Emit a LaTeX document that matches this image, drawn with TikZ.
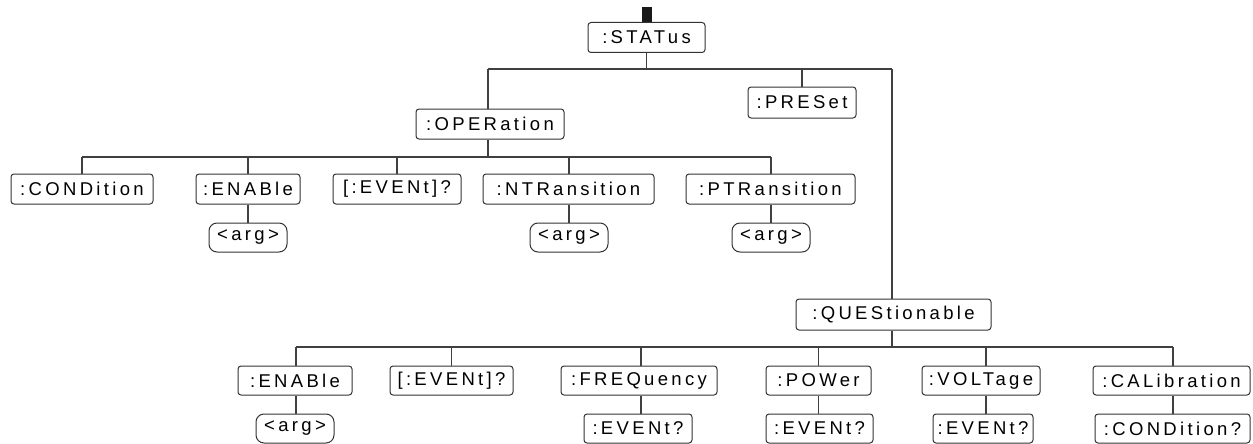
\documentclass[tikz,border=0pt]{standalone}
\usepackage{fontspec}
\newfontfamily\lblfont{Liberation Sans}[LetterSpace=18]
\begin{document}
\begin{tikzpicture}[x=1pt,y=-1pt,
  box/.style={draw=black!80, line width=1pt, rounded corners=3pt, minimum height=30pt, inner sep=0pt,
    font=\lblfont\fontsize{18.5}{21}\selectfont, text=black},
  argbox/.style={box, rounded corners=8pt},
  conn/.style={draw=black!75, line width=1.1pt}]
\useasboundingbox (0,0) rectangle (1253,444);
% top
\node[fill=black!90, minimum width=10pt, minimum height=15pt, inner sep=0pt] (bar) at (647,14.5) {};
\node[box, minimum width=117pt] (stat) at (646.5,37.5) {:STATus};
\node[box, minimum width=108pt, minimum height=31pt] (pres) at (802,102.5) {:PRESet};
\node[box, minimum width=148pt] (oper) at (490,124) {:OPERation};
% operation children
\node[box, minimum width=142pt] (cond) at (82,189) {:CONDition};
\node[box, minimum width=104pt] (enab1) at (248,189) {:ENABle};
\node[box, minimum width=128pt] (evt1) at (397,189) {[:EVENt]?};
\node[box, minimum width=171pt] (ntr) at (568.5,189) {:NTRansition};
\node[box, minimum width=169pt] (ptr) at (770.5,189) {:PTRansition};
\node[argbox, minimum width=78pt, minimum height=29pt] (arg1) at (248,237.5) {<arg>};
\node[argbox, minimum width=78pt, minimum height=29pt] (arg2) at (569,237.5) {<arg>};
\node[argbox, minimum width=78pt, minimum height=29pt] (arg3) at (771,237.5) {<arg>};
% questionable
\node[box, minimum width=195pt, minimum height=31pt] (ques) at (893.5,314.5) {:QUEStionable};
\node[box, minimum width=114pt, minimum height=29pt] (enab2) at (295,380.5) {:ENABle};
\node[box, minimum width=123pt, minimum height=29pt] (evt2) at (451.5,380.5) {[:EVENt]?};
\node[box, minimum width=156pt, minimum height=29pt] (freq) at (639,380.5) {:FREQuency};
\node[box, minimum width=105pt, minimum height=29pt] (pow) at (818.5,380.5) {:POWer};
\node[box, minimum width=118pt, minimum height=29pt] (volt) at (981,380.5) {:VOLTage};
\node[box, minimum width=157pt, minimum height=29pt] (cal) at (1171.5,380.5) {:CALibration};
\node[argbox, minimum width=78pt, minimum height=29pt] (arg4) at (295,428.5) {<arg>};
\node[box, minimum width=108pt, minimum height=29pt] (ev1) at (638,428.5) {:EVENt?};
\node[box, minimum width=107pt, minimum height=29pt] (ev2) at (819.5,428.5) {:EVENt?};
\node[box, minimum width=100pt, minimum height=29pt] (ev3) at (983,428.5) {:EVENt?};
\node[box, minimum width=155pt, minimum height=29pt] (condq) at (1172.5,428.5) {:CONDition?};
% junction coordinates
\coordinate (b0l) at (488,69);
\coordinate (b0r) at (892,69);
\coordinate (b1l) at (82,157);
\coordinate (b1r) at (771,157);
\coordinate (b2l) at (296,347);
\coordinate (b2r) at (1173,347);
\coordinate (jf) at (641,347);
\coordinate (jv) at (986,347);
% status level
\draw[conn] (stat.south) -- (stat.south |- b0l);
\draw[conn] (b0l) -- (b0r);
\draw[conn] (b0l) -- (b0l |- oper.north);
\draw[conn] (pres.north |- b0l) -- (pres.north);
\draw[conn] (b0r) -- (b0r |- ques.north);
% operation level
\draw[conn] (b0l |- oper.south) -- (b0l |- b1l);
\draw[conn] (b1l) -- (b1r);
\draw[conn] (b1l) -- (cond.north);
\draw[conn] (arg1 |- b1l) -- (arg1 |- enab1.north);
\draw[conn] (arg1 |- enab1.south) -- (arg1.north);
\draw[conn] (evt1.north |- b1l) -- (evt1.north);
\draw[conn] (arg2 |- b1l) -- (arg2 |- ntr.north);
\draw[conn] (arg2 |- ntr.south) -- (arg2.north);
\draw[conn] (b1r) -- (b1r |- ptr.north);
\draw[conn] (arg3 |- ptr.south) -- (arg3.north);
% questionable level
\draw[conn] (b0r |- ques.south) -- (b0r |- b2l);
\draw[conn] (b2l) -- (b2r);
\draw[conn] (b2l) -- (b2l |- enab2.north);
\draw[conn] (b2l |- enab2.south) -- (b2l |- arg4.north);
\draw[conn] (evt2.north |- b2l) -- (evt2.north);
\draw[conn] (jf) -- (jf |- freq.north);
\draw[conn] (jf |- freq.south) -- (jf |- ev1.north);
\draw[conn] (pow.north |- b2l) -- (pow.north);
\draw[conn] (pow.south) -- (ev2.north -| pow.south);
\draw[conn] (jv) -- (jv |- volt.north);
\draw[conn] (jv |- volt.south) -- (jv |- ev3.north);
\draw[conn] (b2r) -- (b2r |- cal.north);
\draw[conn] (b2r |- cal.south) -- (b2r |- condq.north);
\end{tikzpicture}
\end{document}
